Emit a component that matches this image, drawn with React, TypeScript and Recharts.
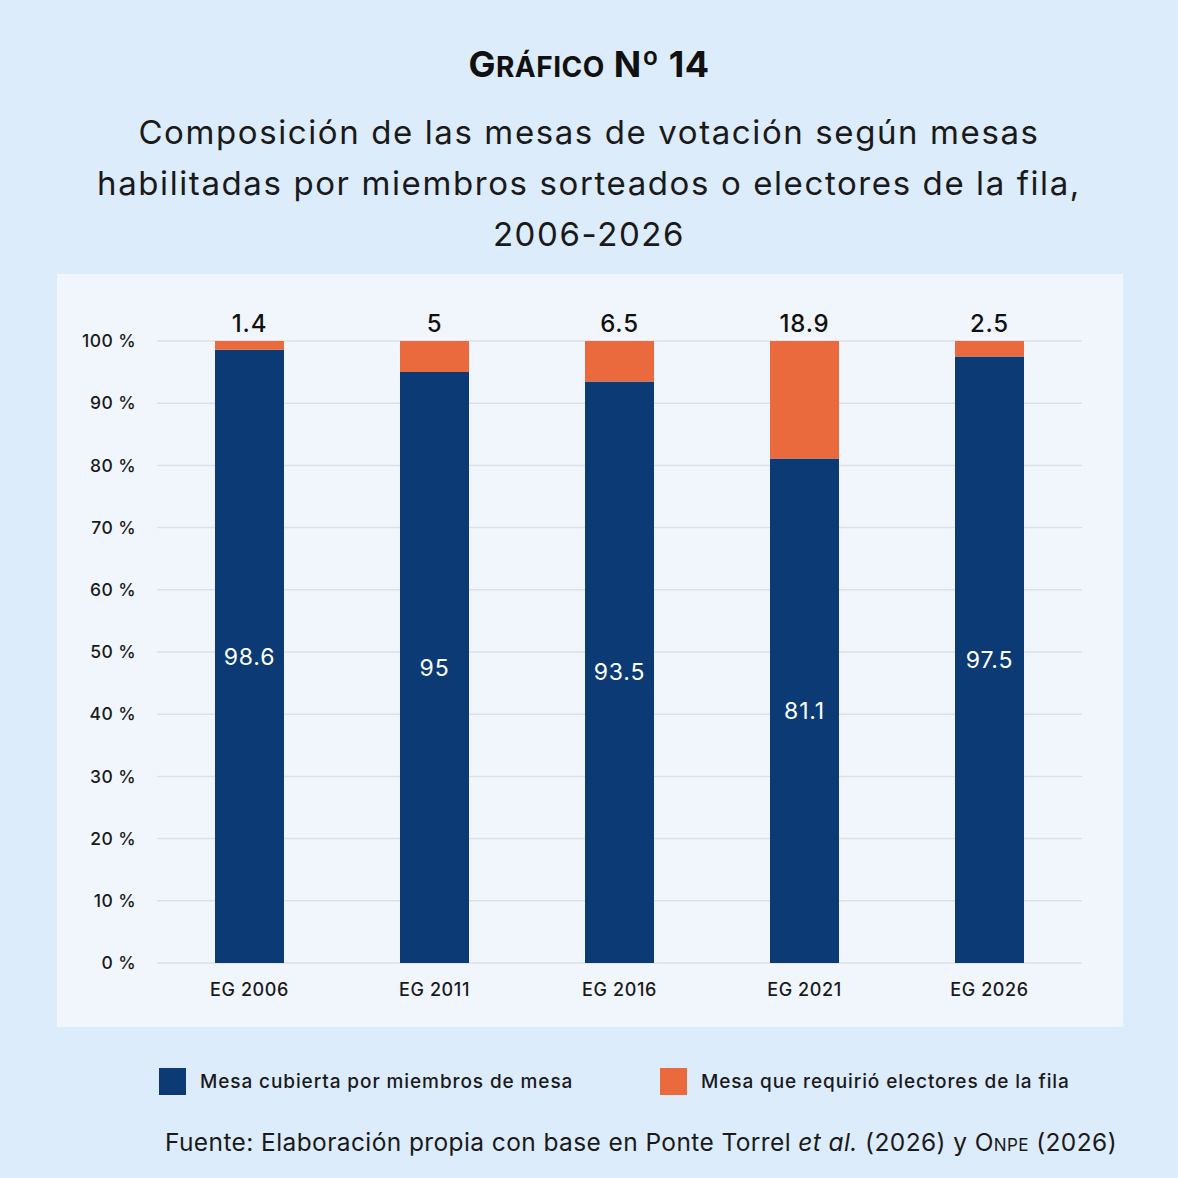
import React from 'react';
import { BarChart, Bar, XAxis, YAxis, CartesianGrid, LabelList } from 'recharts';

const categories = ['EG 2006', 'EG 2011', 'EG 2016', 'EG 2021', 'EG 2026'];
const cubierta = [98.6, 95, 93.5, 81.1, 97.5];
const fila = [1.4, 5, 6.5, 18.9, 2.5];
const yTicks = [0, 10, 20, 30, 40, 50, 60, 70, 80, 90, 100];

const NAVY = '#0b3a74';
const ORANGE = '#ea6a3d';
const FONT = 'Inter, "Noto Sans", sans-serif';

const data = categories.map((name, i) => ({ name, cubierta: cubierta[i], fila: fila[i] }));

const App: React.FC = () => {
  return (
    <div
      style={{
        position: 'absolute',
        left: 0,
        top: 0,
        width: 1178,
        height: 1178,
        background: '#dcecfa',
        fontFamily: FONT,
        color: '#1a1a1a',
        overflow: 'hidden',
      }}
    >
      {/* title, small caps done by hand */}
      <div
        style={{
          position: 'absolute',
          top: 42,
          width: '100%',
          textAlign: 'center',
          fontSize: 36,
          fontWeight: 700,
          color: '#111',
          letterSpacing: 0.5,
        }}
      >
        G<span style={{ fontSize: 28 }}>RÁFICO</span> Nº 14
      </div>
      <div
        style={{
          position: 'absolute',
          top: 107,
          width: '100%',
          textAlign: 'center',
          fontSize: 33,
          lineHeight: '51px',
          letterSpacing: 1.6,
          color: '#1a1a1a',
        }}
      >
        Composición de las mesas de votación según mesas
        <br />
        habilitadas por miembros sorteados o electores de la fila,
        <br />
        2006-2026
      </div>

      <div style={{ position: 'absolute', left: 57, top: 274, width: 1066, height: 753, background: '#f1f6fc' }}>
        <BarChart
          width={1066}
          height={753}
          data={data}
          margin={{ top: 67, right: 41, bottom: 0, left: 0 }}
          barSize={69}
        >
          <CartesianGrid vertical={false} stroke="#dde1e6" strokeWidth={1.5} />
          <XAxis
            dataKey="name"
            axisLine={false}
            tickLine={false}
            tickSize={0}
            tickMargin={20}
            height={64}
            tick={{ fill: '#1a1a1a', fontSize: 18, fontFamily: FONT, fontWeight: 500, letterSpacing: 0.6 }}
          />
          <YAxis
            type="number"
            domain={[0, 100]}
            ticks={yTicks}
            interval={0}
            width={100}
            axisLine={false}
            tickLine={false}
            tickSize={0}
            tickMargin={21}
            tickFormatter={(v: number) => `${v} %`}
            tick={{ fill: '#1a1a1a', fontSize: 17.5, fontFamily: FONT, fontWeight: 500, letterSpacing: 0.4 }}
          />
          <Bar dataKey="cubierta" stackId="a" fill={NAVY} isAnimationActive={false}>
            <LabelList
              dataKey="cubierta"
              position="center"
              fill="#ffffff"
              fontSize={23}
              fontFamily={FONT}
              letterSpacing={0.8}
            />
          </Bar>
          <Bar dataKey="fila" stackId="a" fill={ORANGE} isAnimationActive={false}>
            <LabelList
              dataKey="fila"
              position="top"
              offset={9}
              fill="#111"
              fontSize={24}
              fontFamily={FONT}
              fontWeight={500}
              letterSpacing={0.8}
            />
          </Bar>
        </BarChart>
      </div>

      <div
        style={{
          position: 'absolute',
          top: 1068,
          left: 159,
          display: 'flex',
          alignItems: 'center',
          fontSize: 19,
          fontWeight: 500,
          letterSpacing: 0.9,
          color: '#1a1a1a',
        }}
      >
        <span style={{ width: 27, height: 27, background: NAVY, display: 'inline-block', marginRight: 14 }} />
        <span style={{ width: 460 }}>Mesa cubierta por miembros de mesa</span>
        <span style={{ width: 27, height: 27, background: ORANGE, display: 'inline-block', marginRight: 14 }} />
        <span>Mesa que requirió electores de la fila</span>
      </div>

      <div
        style={{
          position: 'absolute',
          top: 1127,
          right: 61,
          fontSize: 24.5,
          letterSpacing: 0.4,
          color: '#1a1a1a',
          whiteSpace: 'nowrap',
        }}
      >
        Fuente: Elaboración propia con base en Ponte Torrel <i>et al.</i> (2026) y O
        <span style={{ fontSize: 17 }}>NPE</span> (2026)
      </div>
    </div>
  );
};

export default App;
